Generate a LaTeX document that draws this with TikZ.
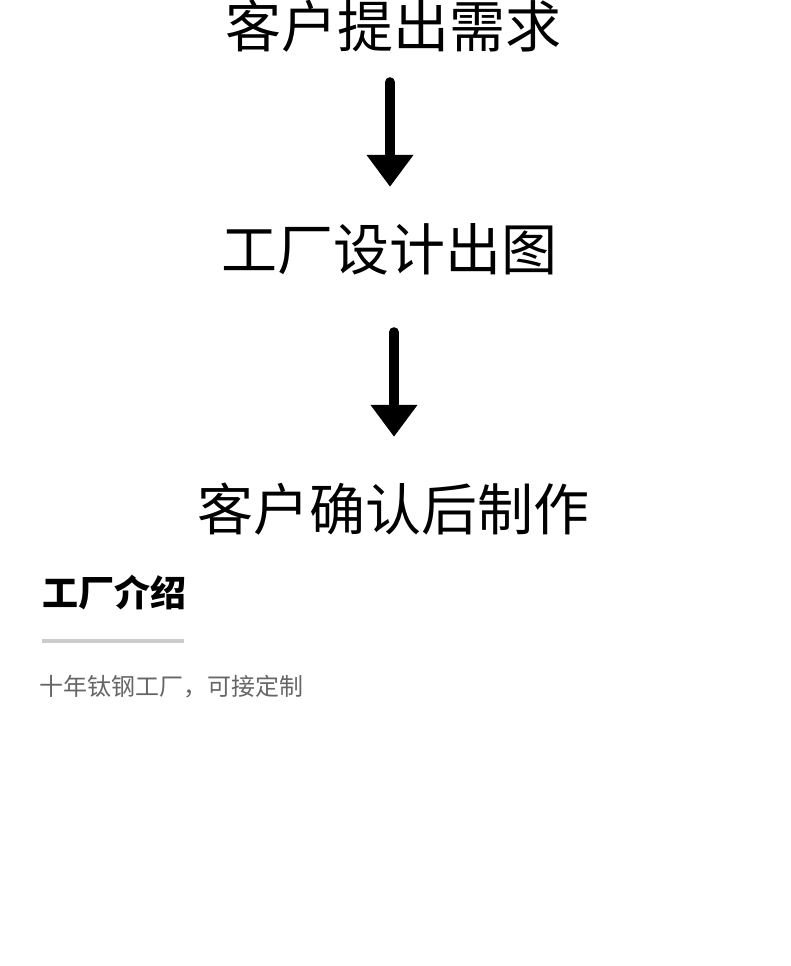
\documentclass[tikz,border=0pt]{standalone}
\usepackage{fontspec}
\usepackage{xcolor}
\usepackage{tikz}
\usetikzlibrary{arrows.meta, positioning, calc}
\newfontfamily\cjk{Noto Sans CJK SC}
\definecolor{subgray}{HTML}{666666}
\definecolor{rulegray}{HTML}{CCCCCC}

\begin{document}
\begin{tikzpicture}[
    x=1pt, y=1pt,
    stepnode/.style={inner sep=0pt, anchor=base, text height=40pt, text depth=0pt,
                     font=\cjk\fontsize{56}{56}\selectfont},
    flowarrow/.style={-{Triangle[length=32pt, width=45pt]}, line width=10pt, line cap=round, draw=black},
    headnode/.style={inner sep=0pt, anchor=base west, font=\cjk\bfseries\fontsize{36}{36}\selectfont},
    subnode/.style={inner sep=0pt, anchor=base west, text=subgray, font=\cjk\fontsize{24}{24}\selectfont}
]
\useasboundingbox (0,0) rectangle (790,966);
\node[stepnode] (req)    at (393,918) {客户提出需求};
\node[stepnode] (design) at (389,695) {工厂设计出图};
\node[stepnode] (make)   at (393,435) {客户确认后制作};

\draw[flowarrow, shorten <=34pt, shorten >=44pt] ([xshift=-3pt]req.south) -- ([xshift=1pt]design.north);
\draw[flowarrow, shorten <=61pt, shorten >=54pt] ([xshift=5pt]design.south) -- ([xshift=1pt]make.north);

% factory intro
\node[headnode] (intro) at (42,359) {工厂介绍};
\draw[rulegray, line width=4pt] ([yshift=-34pt]intro.base west) -- ++(142,0);
\node[subnode] (slogan) at (39,270) {十年钛钢工厂，可接定制};
\end{tikzpicture}
\end{document}
